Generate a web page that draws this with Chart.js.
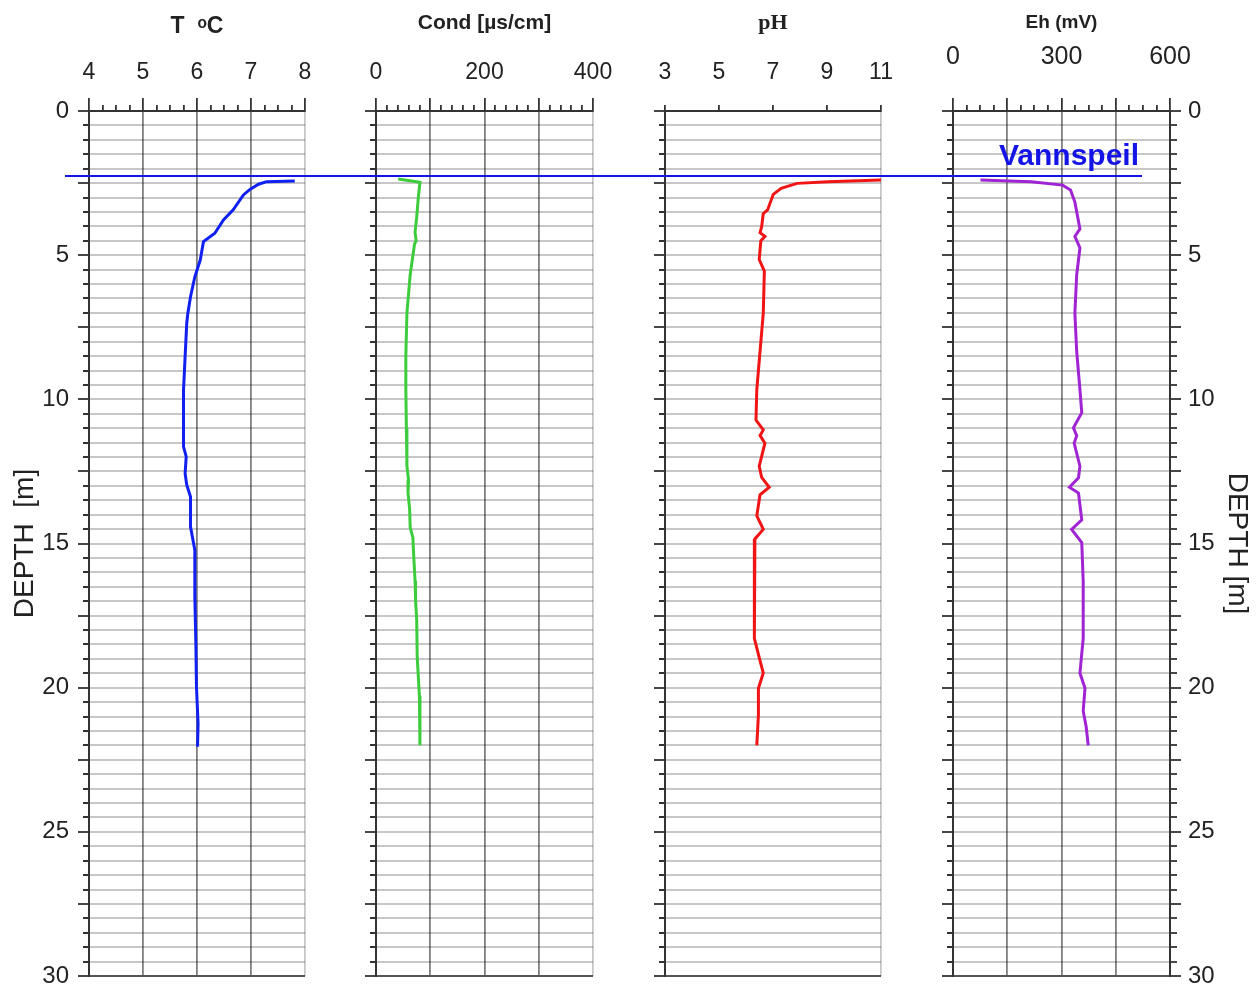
<!DOCTYPE html>
<html>
<head>
<meta charset="utf-8">
<script src="https://cdn.jsdelivr.net/npm/chart.js@4.4.1/dist/chart.umd.min.js"></script>
<style>
  html, body { margin: 0; padding: 0; background: #fff; }
  #wrap { position: relative; width: 1256px; height: 989px; overflow: hidden; }
  #wrap canvas { position: absolute; top: 0; }
</style>
</head>
<body>
<div id="wrap">
  <canvas id="tempChart" width="340" height="989" style="left:0px"></canvas>
  <canvas id="condChart" width="290" height="989" style="left:340px"></canvas>
  <canvas id="phChart" width="288" height="989" style="left:630px"></canvas>
  <canvas id="ehChart" width="338" height="989" style="left:918px"></canvas>
</div>
<script>
// ----- Data (depth in m) -----
const tempDepth = [2.43, 2.45, 2.54, 2.72, 2.91, 3.43, 3.78, 4.24, 4.53, 5.17, 5.75, 6.44, 7.02, 7.36, 8.52, 9.68, 11.64, 11.99, 12.57, 12.97, 13.38, 14.42, 15.23, 16.85, 18.58, 19.97, 21.24, 22.05];
const tempValues = [7.81, 7.29, 7.14, 6.98, 6.86, 6.67, 6.49, 6.33, 6.12, 6.06, 5.96, 5.88, 5.83, 5.81, 5.78, 5.75, 5.75, 5.80, 5.78, 5.81, 5.88, 5.88, 5.96, 5.96, 5.98, 5.99, 6.02, 6.01];

const condDepth = [2.36, 2.47, 3.0, 3.69, 4.2, 4.5, 4.62, 5.68, 7.01, 8.5, 9.66, 11.0, 12.32, 12.8, 13.25, 13.8, 14.44, 14.8, 15.24, 16.3, 17.0, 17.63, 18.96, 20.28, 22.0];
const condValues = [41, 81, 78, 75, 72, 74, 71, 63, 57, 55, 55, 56, 57, 60, 59, 62, 63, 68, 69, 72, 73, 75, 76, 80, 81];

const phDepth = [2.39, 2.45, 2.51, 2.68, 2.89, 3.43, 3.56, 4.01, 4.22, 4.35, 4.5, 5.15, 5.55, 7.01, 8.34, 9.66, 10.72, 11.06, 11.25, 11.52, 12.32, 12.71, 13.05, 13.31, 14.04, 14.51, 14.84, 16.3, 18.29, 18.96, 19.49, 20.02, 20.94, 22.0];
const phValues = [11.0, 9.04, 7.89, 7.30, 7.01, 6.80, 6.64, 6.58, 6.52, 6.70, 6.55, 6.49, 6.68, 6.64, 6.52, 6.40, 6.37, 6.64, 6.52, 6.70, 6.49, 6.58, 6.86, 6.52, 6.40, 6.64, 6.33, 6.31, 6.31, 6.49, 6.64, 6.46, 6.46, 6.40];

const ehDepth = [2.39, 2.45, 2.57, 2.74, 3.16, 4.09, 4.35, 4.75, 5.68, 7.01, 8.34, 9.66, 10.46, 10.99, 11.26, 11.52, 12.32, 12.72, 13.05, 13.25, 14.18, 14.51, 14.97, 16.3, 18.29, 19.49, 20.02, 20.81, 21.34, 22.0];
const ehValues = [76, 216, 303, 325, 337, 351, 337, 351, 342, 337, 342, 351, 356, 333, 342, 335, 351, 347, 322, 347, 356, 328, 356, 360, 360, 351, 365, 360, 368, 374];

const vannspeilDepth = 2.25;

// tick labels
const depthTickLabels = [0, 5, 10, 15, 20, 25, 30];
const tempTickLabels = [4, 5, 6, 7, 8];
const condTickLabels = [0, 200, 400];
const phTickLabels = [3, 5, 7, 9, 11];
const ehTickLabels = [0, 300, 600];

const FONT = "'Liberation Sans', Arial, sans-serif";
const SERIF = "'Liberation Serif', 'Times New Roman', serif";

const near = (v, list) => list.some(t => Math.abs(t - v) < 1e-6);
const onStep = (v, step) => Math.abs(v / step - Math.round(v / step)) < 1e-6;

// ----- Vannspeil line, drawn on every panel -----
const vannspeilPlugin = {
  id: "vannspeil",
  afterDraw(chart, args, opts) {
    const y = chart.scales.y.getPixelForValue(vannspeilDepth);
    const ctx = chart.ctx;
    ctx.save();
    ctx.strokeStyle = "#1414e6";
    ctx.lineWidth = 2;
    ctx.beginPath();
    ctx.moveTo(opts.from, y);
    ctx.lineTo(opts.to, y);
    ctx.stroke();
    if (opts.label) {
      ctx.font = "bold 30px " + FONT;
      ctx.fillStyle = "#1414e6";
      ctx.textAlign = "right";
      ctx.textBaseline = "alphabetic";
      ctx.fillText(opts.label, opts.to - 3, y - 11);
    }
    ctx.restore();
  }
};

// ----- Axes -----
function depthAxis(position, width, showLabels, title) {
  return {
    type: "linear",
    position: position,
    min: 0,
    max: 30,
    reverse: true,
    ticks: {
      stepSize: 0.5,
      autoSkip: false,
      padding: position === "left" ? 9 : 7,
      color: "#222",
      font: { family: FONT, size: 24 },
      callback: v => (showLabels && near(v, depthTickLabels)) ? String(v) : ""
    },
    grid: {
      drawOnChartArea: position === "left",
      color: c => (c.tick && near(c.tick.value, [30])) ? "#555" : "rgba(0,0,0,0.22)",
      lineWidth: c => 2,
      tickColor: "#333",
      tickWidth: 1.8,
      tickLength: 11,
      tickBorderDash: c => (!c.tick || onStep(c.tick.value, 2.5)) ? [] : (position === "left" ? [0, 5, 6, 100] : [6, 100])
    },
    border: { display: true, color: "#333", width: 2 },
    title: title ? {
      display: true,
      text: title,
      color: "#222",
      font: { family: FONT, size: 28 },
      padding: { top: position === "left" ? 8 : 2, bottom: 0 }
    } : { display: false },
    afterFit: s => { s.width = width; s.paddingTop = 0; s.paddingBottom = 0; }
  };
}

function valueAxis(p) {
  return {
    type: "linear",
    position: "top",
    min: p.min,
    max: p.max,
    ticks: {
      stepSize: p.minorStep,
      autoSkip: false,
      maxRotation: 0,
      padding: p.labelPad,
      color: "#222",
      font: { family: FONT, size: p.labelSize },
      callback: v => near(v, p.labels) ? String(v) : ""
    },
    grid: {
      color: c => {
        if (!c.tick) return "transparent";
        if (near(c.tick.value, [p.max])) return "rgba(0,0,0,0.22)";
        if (near(c.tick.value, [p.min])) return "transparent";
        return onStep(c.tick.value, p.majorStep) ? "rgba(0,0,0,0.5)" : "transparent";
      },
      lineWidth: 1.8,
      tickColor: "#333",
      tickWidth: 1.8,
      tickLength: 13,
      tickBorderDash: c => (!c.tick || onStep(c.tick.value, p.majorStep)) ? [] : [0, 7, 6, 100]
    },
    border: { display: true, color: "#333", width: 2 },
    title: {
      display: true,
      text: p.title,
      color: "#222",
      font: p.titleFont,
      padding: { top: p.titleTop, bottom: 0 }
    },
    afterFit: s => { s.height = 111; s.paddingLeft = 0; s.paddingRight = 0; }
  };
}

function series(depths, values, color) {
  return {
    data: depths.map((d, i) => ({ x: values[i], y: d })),
    borderColor: color,
    borderWidth: 3,
    showLine: true,
    pointRadius: 0,
    tension: 0,
    fill: false
  };
}

function makePanel(id, dataset, xAxis, scales, padRight, vannspeil) {
  const allScales = Object.assign({ x: xAxis }, scales);
  return new Chart(document.getElementById(id), {
    type: "scatter",
    data: { datasets: [dataset] },
    options: {
      responsive: false,
      animation: false,
      devicePixelRatio: 1,
      layout: { padding: { left: 0, right: padRight, top: 0, bottom: 13 } },
      scales: allScales,
      plugins: {
        legend: { display: false },
        tooltip: { enabled: false },
        vannspeil: vannspeil
      }
    },
    plugins: [vannspeilPlugin]
  });
}

// ----- Panels -----
makePanel("tempChart",
  series(tempDepth, tempValues, "#1020f0"),
  valueAxis({ min: 4, max: 8, minorStep: 0.25, majorStep: 1, labels: tempTickLabels, labelSize: 23, labelPad: 12,
    title: "T  \u1D52C", titleFont: { family: FONT, size: 23, weight: "bold" }, titleTop: 13 }),
  { y: depthAxis("left", 89, true, "DEPTH  [m]") },
  35, { from: 65, to: 340 });

makePanel("condChart",
  series(condDepth, condValues, "#3ccc3c"),
  valueAxis({ min: 0, max: 400, minorStep: 20, majorStep: 100, labels: condTickLabels, labelSize: 23, labelPad: 12,
    title: "Cond [\u00B5s/cm]", titleFont: { family: FONT, size: 21, weight: "bold" }, titleTop: 11 }),
  { y: depthAxis("left", 36, false, null) },
  37, { from: 0, to: 290 });

makePanel("phChart",
  series(phDepth, phValues, "#f01414"),
  valueAxis({ min: 3, max: 11, minorStep: 2, majorStep: 2, labels: phTickLabels, labelSize: 23, labelPad: 12,
    title: "pH", titleFont: { family: SERIF, size: 22, weight: "bold" }, titleTop: 10 }),
  { y: depthAxis("left", 35, false, null) },
  37, { from: 0, to: 288 });

makePanel("ehChart",
  series(ehDepth, ehValues, "#a024d4"),
  valueAxis({ min: 0, max: 600, minorStep: 37.5, majorStep: 150, labels: ehTickLabels, labelSize: 25, labelPad: 26,
    title: "Eh (mV)", titleFont: { family: FONT, size: 19, weight: "bold" }, titleTop: 11 }),
  { y: depthAxis("left", 35, false, null), y2: depthAxis("right", 86, true, "DEPTH [m]") },
  0, { from: 0, to: 224, label: "Vannspeil" });
</script>
</body>
</html>
